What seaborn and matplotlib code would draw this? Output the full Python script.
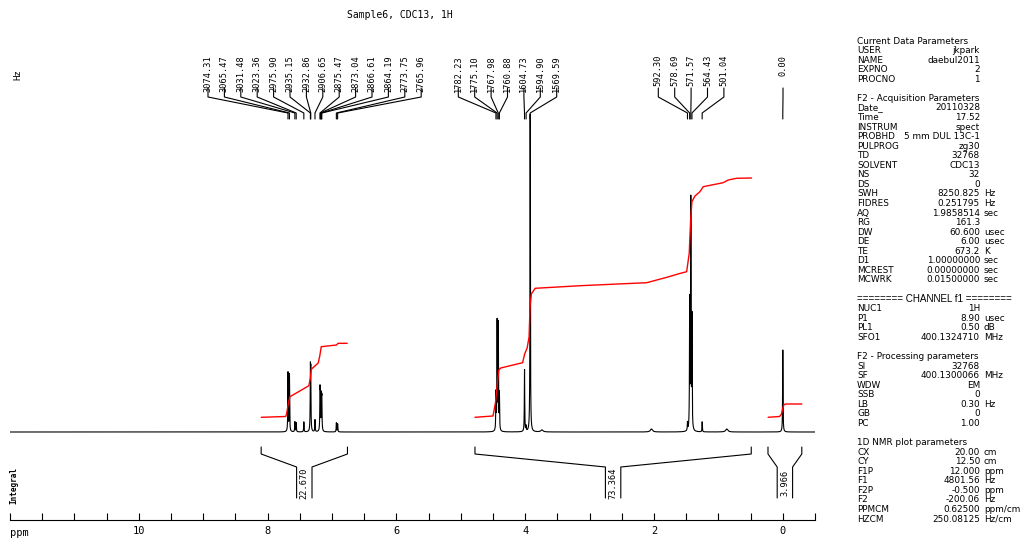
import numpy as np
import pandas as pd
import matplotlib
matplotlib.use("Agg")
import matplotlib.pyplot as plt
import seaborn as sns
from matplotlib.ticker import MultipleLocator, FuncFormatter

# ---------------- data ----------------
SF_MHZ = 400.13
TITLE = "Sample6, CDC13, 1H"

peak_hz = [3074.31, 3065.47, 3031.48, 3023.36, 2975.90, 2935.15, 2932.86,
           2906.65, 2875.47, 2873.04, 2866.61, 2864.19, 2773.75, 2765.96,
           1782.23, 1775.10, 1767.98, 1760.88, 1604.73, 1594.90, 1569.59,
           592.30, 578.69, 571.57, 564.43, 501.04, 0.00]
peak_height = [59, 57, 10, 9, 10, 55, 52,
               12, 37, 34, 31, 29, 9, 8,
               37, 108, 106, 36, 62, 5, 318,
               8, 128, 228, 111, 10, 82]
peak_group = [0] * 14 + [1] * 7 + [2] * 5 + [3]

# small unlabelled humps
hump_ppm = [3.74, 2.04, 0.87]
hump_height = [2, 3, 3]

# integral traces (ppm, level)
int1_ppm = [8.098, 7.72, 7.705, 7.68, 7.654, 7.50, 7.36, 7.335, 7.322, 7.214, 7.19, 7.167, 6.93, 6.915, 6.904, 6.764]
int1_lev = [14.7, 15.5, 18, 28, 35.3, 41, 46.3, 54, 62.7, 69, 76, 85.3, 87, 88, 88.7, 88.7]
int2_ppm = [4.78, 4.50, 4.46, 4.43, 4.41, 4.38, 4.04, 4.01, 3.97, 3.94, 3.925, 3.905, 3.845, 3.147, 2.113, 1.80, 1.60, 1.493, 1.453, 1.431, 1.411, 1.364, 1.287, 1.236, 0.926, 0.848, 0.718, 0.485]
int2_lev = [14.7, 16, 30, 50, 62, 64, 69.3, 77.7, 84, 95, 125, 138, 143.7, 146.3, 149.3, 154.7, 158.5, 160.3, 178.7, 212, 230.3, 236, 240.3, 245.3, 249.3, 252, 253.7, 254]
int3_ppm = [0.228, 0.05, 0.02, 0.0, -0.02, -0.05, -0.295]
int3_lev = [14.7, 15.5, 18, 24, 27.5, 28, 28]

int_region = [(8.10, 6.76), (4.78, 0.49), (0.23, -0.295)]
int_value = ["22.670", "73.364", "3.966"]

params = [
    ("Current Data Parameters", None, None),
    ("USER", "jkpark", ""),
    ("NAME", "daebul2011", ""),
    ("EXPNO", "2", ""),
    ("PROCNO", "1", ""),
    ("", None, None),
    ("F2 - Acquisition Parameters", None, None),
    ("Date_", "20110328", ""),
    ("Time", "17.52", ""),
    ("INSTRUM", "spect", ""),
    ("PROBHD", "5 mm DUL 13C-1", ""),
    ("PULPROG", "zg30", ""),
    ("TD", "32768", ""),
    ("SOLVENT", "CDC13", ""),
    ("NS", "32", ""),
    ("DS", "0", ""),
    ("SWH", "8250.825", "Hz"),
    ("FIDRES", "0.251795", "Hz"),
    ("AQ", "1.9858514", "sec"),
    ("RG", "161.3", ""),
    ("DW", "60.600", "usec"),
    ("DE", "6.00", "usec"),
    ("TE", "673.2", "K"),
    ("D1", "1.00000000", "sec"),
    ("MCREST", "0.00000000", "sec"),
    ("MCWRK", "0.01500000", "sec"),
    ("", None, None),
    ("======== CHANNEL f1 ========", None, None),
    ("NUC1", "1H", ""),
    ("P1", "8.90", "usec"),
    ("PL1", "0.50", "dB"),
    ("SFO1", "400.1324710", "MHz"),
    ("", None, None),
    ("F2 - Processing parameters", None, None),
    ("SI", "32768", ""),
    ("SF", "400.1300066", "MHz"),
    ("WDW", "EM", ""),
    ("SSB", "0", ""),
    ("LB", "0.30", "Hz"),
    ("GB", "0", ""),
    ("PC", "1.00", ""),
    ("", None, None),
    ("1D NMR plot parameters", None, None),
    ("CX", "20.00", "cm"),
    ("CY", "12.50", "cm"),
    ("F1P", "12.000", "ppm"),
    ("F1", "4801.56", "Hz"),
    ("F2P", "-0.500", "ppm"),
    ("F2", "-200.06", "Hz"),
    ("PPMCM", "0.62500", "ppm/cm"),
    ("HZCM", "250.08125", "Hz/cm"),
]

# ---------------- layout ----------------
W, H = 1023, 539
sns.set_theme(style="white")
plt.rcParams["font.family"] = ["DejaVu Sans"]
plt.rcParams["text.color"] = "black"
plt.rcParams["xtick.color"] = "black"
MONO = "DejaVu Sans Mono"

fig = plt.figure(figsize=(W / 100, H / 100), dpi=100)
AX_L, AX_R, AX_T, AX_B = 10, 815, 40, 520
ax = fig.add_axes([AX_L / W, 1 - AX_B / H, (AX_R - AX_L) / W, (AX_B - AX_T) / H])
X0, X1 = 12.0, -0.5
BASE_PX = 432
ax.set_xlim(X0, X1)
ax.set_ylim(BASE_PX - AX_B, BASE_PX - AX_T)  # 1 unit = 1 px, baseline 0


def px2ppm(x):
    return X0 - (x - AX_L) * (X0 - X1) / (AX_R - AX_L)


def px2lev(y):
    return BASE_PX - y


def fx(x):
    return x / W


def fy(y):
    return 1 - y / H


# ---------------- spectrum ----------------
peak_ppm = [h / SF_MHZ for h in peak_hz]
grid = np.linspace(X0, X1, 40001)
hw = 0.0035
spec = np.zeros_like(grid)
for p, h in zip(peak_ppm, peak_height):
    spec += h * hw ** 2 / ((grid - p) ** 2 + hw ** 2)
for p, h in zip(hump_ppm, hump_height):
    spec += h * 0.02 ** 2 / ((grid - p) ** 2 + 0.02 ** 2)

df = pd.DataFrame({"ppm": grid, "y": spec})
sns.lineplot(data=df, x="ppm", y="y", ax=ax, color="black", lw=0.8,
             sort=False, estimator=None)

# integral traces
for xs, ys in [(int1_ppm, int1_lev), (int2_ppm, int2_lev), (int3_ppm, int3_lev)]:
    sns.lineplot(x=xs, y=ys, ax=ax, color="#ff0000", lw=1.0, sort=False, estimator=None)

# integral brackets
gap = 7.7 * (X0 - X1) / (AX_R - AX_L)
for (a, b), val in zip(int_region, int_value):
    c = (a + b) / 2
    ax.plot([a, a, c + gap, c + gap], [px2lev(447), px2lev(454), px2lev(467), px2lev(498)],
            color="black", lw=0.8)
    ax.plot([b, b, c - gap, c - gap], [px2lev(447), px2lev(454), px2lev(467), px2lev(498)],
            color="black", lw=0.8)
    ax.text(c, px2lev(483), val, rotation=90, ha="center", va="center",
            fontsize=6.2, family=MONO, color="black")

# peak labels with leaders
group_start_px = [208, 458.3, 658.3, 783]
label_step_px = 16.4
counts = {}
for hz, p, g in zip(peak_hz, peak_ppm, peak_group):
    k = counts.get(g, 0)
    counts[g] = k + 1
    lx = px2ppm(group_start_px[g] + k * label_step_px)
    ax.plot([lx, lx, p, p], [px2lev(88), px2lev(97), px2lev(113), px2lev(119)],
            color="black", lw=0.8)
    ax.text(lx, px2lev(55), f"{hz:.2f}", rotation=90, ha="center", va="top",
            fontsize=6.2, family=MONO, color="black")

# axis styling
for s in ["top", "left", "right"]:
    ax.spines[s].set_visible(False)
ax.spines["bottom"].set_color("black")
ax.spines["bottom"].set_linewidth(0.8)
ax.set_yticks([])
ax.set_xlabel("")
ax.set_ylabel("")
ax.xaxis.set_major_locator(MultipleLocator(2))
ax.xaxis.set_minor_locator(MultipleLocator(0.5))
ax.xaxis.set_major_formatter(FuncFormatter(lambda v, pos: "" if v > 11 else f"{v:.0f}"))
ax.tick_params(axis="x", which="both", direction="in", length=5, width=0.8,
               color="black", bottom=True, top=False, pad=4, labelsize=7.5,
               labelcolor="black")
for t in ax.get_xticklabels():
    t.set_family(MONO)

fig.text(fx(10), fy(533), "ppm", ha="left", va="center", fontsize=7.5, family=MONO)
fig.text(fx(18), fy(75), "Hz", rotation=90, ha="center", va="center", fontsize=6.5, family=MONO)
fig.text(fx(14), fy(485), "Integral", rotation=90, ha="center", va="center",
         fontsize=5.5, family=MONO, weight="bold")
fig.text(fx(400), fy(15), TITLE, ha="center", va="center", fontsize=7, family=MONO)

# parameter panel
KEY_X, VAL_X, UNIT_X = 857, 980, 984
PFS = 6.4
for i, (k, v, u) in enumerate(params):
    y = fy(41 + i * 9.56)
    if v is None:
        if k.startswith("="):
            fig.text(fx(KEY_X), y, k, ha="left", va="center", fontsize=7.1,
                     family="Liberation Sans")
        elif k:
            fig.text(fx(KEY_X), y, k, ha="left", va="center", fontsize=PFS)
        continue
    fig.text(fx(KEY_X), y, k, ha="left", va="center", fontsize=PFS)
    fig.text(fx(VAL_X), y, v, ha="right", va="center", fontsize=PFS)
    if u:
        fig.text(fx(UNIT_X), y, u, ha="left", va="center", fontsize=PFS)

fig.savefig("out.png", dpi=100)
